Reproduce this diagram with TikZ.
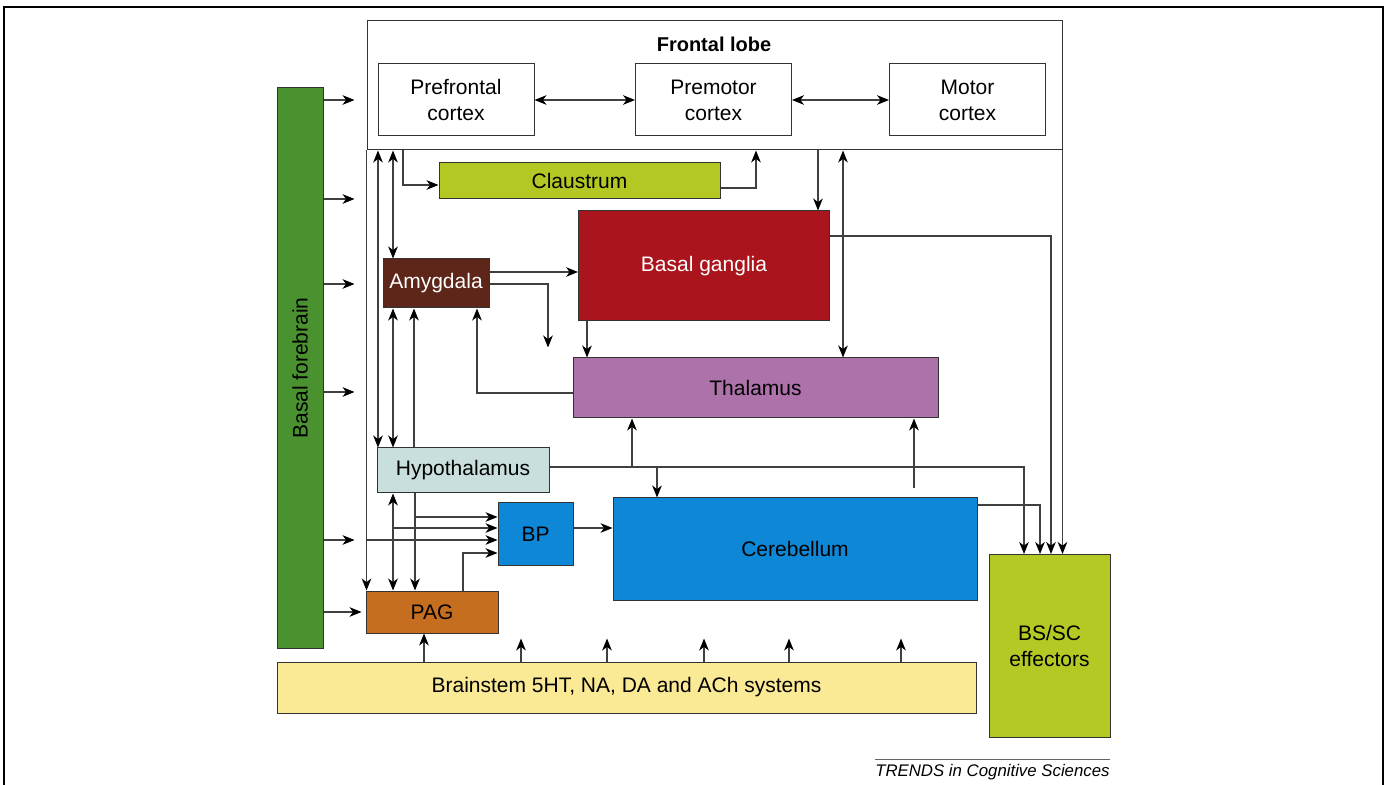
\documentclass[tikz,border=0pt]{standalone}
\usepackage{fontspec}
\setmainfont{Liberation Sans}
\usetikzlibrary{arrows.meta}
\definecolor{forebraingreen}{HTML}{4A9130}
\definecolor{claustrumgreen}{HTML}{B3C823}
\definecolor{gangliared}{HTML}{AA141C}
\definecolor{amygdalabrown}{HTML}{5E2519}
\definecolor{thalamuspurple}{HTML}{AE72AA}
\definecolor{hypoblue}{HTML}{C8DFDD}
\definecolor{cerebblue}{HTML}{0E87D6}
\definecolor{pagorange}{HTML}{C66E1F}
\definecolor{stemyellow}{HTML}{FAEA95}
\definecolor{effectorgreen}{HTML}{B4C923}
\tikzset{
    region/.style={draw=black!80, line width=0.5pt, inner sep=0pt, align=center, font=\fontsize{10.5}{13}\selectfont},
    cortexnode/.style={region, fill=white, minimum width=78pt, minimum height=36pt},
    whitetext/.style={text=white},
    conn/.style={-{Stealth[length=6pt,width=4.8pt,inset=1.8pt,black]}, draw=black!75, line width=0.6pt},
    biconn/.style={conn, {Stealth[length=6pt,width=4.8pt,inset=1.8pt,black]}-{Stealth[length=6pt,width=4.8pt,inset=1.8pt,black]}}
}

\begin{document}
\begin{tikzpicture}[x=0.5pt, y=-0.5pt]
        \useasboundingbox (0,0) rectangle (1386,785);
        \draw[line width=0.8pt] (4,785) -- (4,7) -- (1383,7) -- (1383,785);

        \node[region, minimum width=347.5pt, minimum height=64.5pt] (frontal) at (714.5,85.5) {};
        \node[font=\fontsize{10}{12}\selectfont\bfseries] (title) at (714,44) {Frontal lobe};
        \node[cortexnode] (pfc) at (456,100) {Prefrontal\\cortex};
        \node[cortexnode] (pmc) at (713.5,100) {Premotor\\cortex};
        \node[cortexnode] (mc) at (967.5,100) {Motor\\cortex};

        \node[region, fill=forebraingreen, minimum width=23pt, minimum height=280pt] (bf) at (300,368) {};
        \node[rotate=90, font=\fontsize{10.5}{13}\selectfont] (bflabel) at (bf) {Basal forebrain};
        \node[region, fill=claustrumgreen, minimum width=140.5pt, minimum height=18pt] (claus) at (579.5,181) {Claustrum};
        \node[region, whitetext, fill=gangliared, minimum width=125.5pt, minimum height=55pt] (bg) at (704,266) {Basal ganglia};
        \node[region, whitetext, fill=amygdalabrown, minimum width=53pt, minimum height=24.5pt] (amyg) at (436,283.5) {Amygdala};
        \node[region, fill=thalamuspurple, minimum width=182.5pt, minimum height=30pt] (thal) at (755.5,388) {Thalamus};
        \node[region, fill=hypoblue, minimum width=86pt, minimum height=22.5pt] (hypo) at (463,470.5) {Hypothalamus};
        \node[region, fill=cerebblue, minimum width=37.5pt, minimum height=31pt] (bp) at (535.5,534) {BP};
        \node[region, fill=cerebblue, minimum width=182pt, minimum height=51pt] (cereb) at (795,549) {Cerebellum};
        \node[region, fill=pagorange, minimum width=66pt, minimum height=21pt] (pag) at (432,612) {PAG};
        \node[region, fill=stemyellow, minimum width=349.5pt, minimum height=25.5pt] (stem) at (626.5,687.5) {Brainstem 5HT, NA, DA and ACh systems};
        \node[region, fill=effectorgreen, minimum width=60.5pt, minimum height=91.5pt] (bssc) at (1049.5,646) {BS/SC\\effectors};
        \node[font=\fontsize{8.4}{10}\selectfont\itshape, inner sep=0pt, anchor=north east] (credit) at (1110,764) {TRENDS in Cognitive Sciences};
        \draw[black!60, line width=0.5pt] ([yshift=2.5pt]credit.north west) -- ([yshift=2.5pt]credit.north east);

        \draw[biconn] (pfc) -- (pmc);
        \draw[biconn] (pmc) -- (mc);

        \foreach \y in {100,199,284,392,540}
            \draw[conn, shorten >=6pt] (bf.east |- 0,\y) -- (frontal.west |- 0,\y);
        \draw[conn, shorten >=2pt] (bf.east |- pag.west) -- (pag.west);

        \draw[conn] (frontal.south west) -- (frontal.south west |- pag.north);
        \draw[conn] (frontal.south east) -- (frontal.south east |- bssc.north);
        \draw[biconn] (378,0 |- frontal.south) -- (378,0 |- hypo.north);
        \draw[biconn] (393,0 |- frontal.south) -- (393,0 |- amyg.north);
        \draw[conn] (403,0 |- frontal.south) |- (claus.west |- 0,185);
        \draw[conn] (claus.east |- 0,188) -| (756,0 |- frontal.south);
        \draw[conn] (818,0 |- frontal.south) -- (818,0 |- bg.north);
        \draw[biconn] (843,0 |- frontal.south) -- (843,0 |- thal.north);

        \draw[conn] (amyg.east |- 0,272) -- (bg.west |- 0,272);
        \draw[conn, shorten >=5pt] (amyg.east |- 0,284) -| (548,0 |- thal.north);
        \draw[conn] (bg.east |- 0,236) -| (1051,0 |- bssc.north);
        \draw[conn] (587,0 |- bg.south) -- (587,0 |- thal.north);
        \draw[conn] (thal.west |- 0,393) -| (477,0 |- amyg.south);

        \draw[biconn] (393,0 |- amyg.south) -- (393,0 |- hypo.north);
        \draw[conn] (414,0 |- hypo.north) -- (414,0 |- amyg.south);
        \draw[biconn] (393,0 |- hypo.south) -- (393,0 |- pag.north);
        \draw[conn] (415,0 |- hypo.south) -- (415,0 |- pag.north);
        \draw[conn] (415,517) -- (bp.west |- 0,517);
        \draw[conn] (393,528) -- (bp.west |- 0,528);
        \draw[conn] (frontal.south west |- 0,540) -- (bp.west |- 0,540);
        \draw[conn] (463,0 |- pag.north) |- (bp.west |- 0,553);
        \draw[conn] (bp.east |- 0,528) -- (cereb.west |- 0,528);

        \draw[conn] (hypo.east |- 0,467) -| (1024,0 |- bssc.north);
        \draw[conn] (632,467) -- (632,0 |- thal.south);
        \draw[conn] (657,467) -- (657,0 |- cereb.north);
        \draw[conn, shorten <=4.5pt] (914,0 |- cereb.north) -- (914,0 |- thal.south);
        \draw[conn] (cereb.east |- 0,505) -| (1040,0 |- bssc.north);

        \draw[conn] (424,0 |- stem.north) -- (424,0 |- pag.south);
        \foreach \x in {521,607,704,789,901}
            \draw[conn, shorten >=2.5pt] (\x,0 |- stem.north) -- (\x,0 |- pag.south);
    \end{tikzpicture}
\end{document}
